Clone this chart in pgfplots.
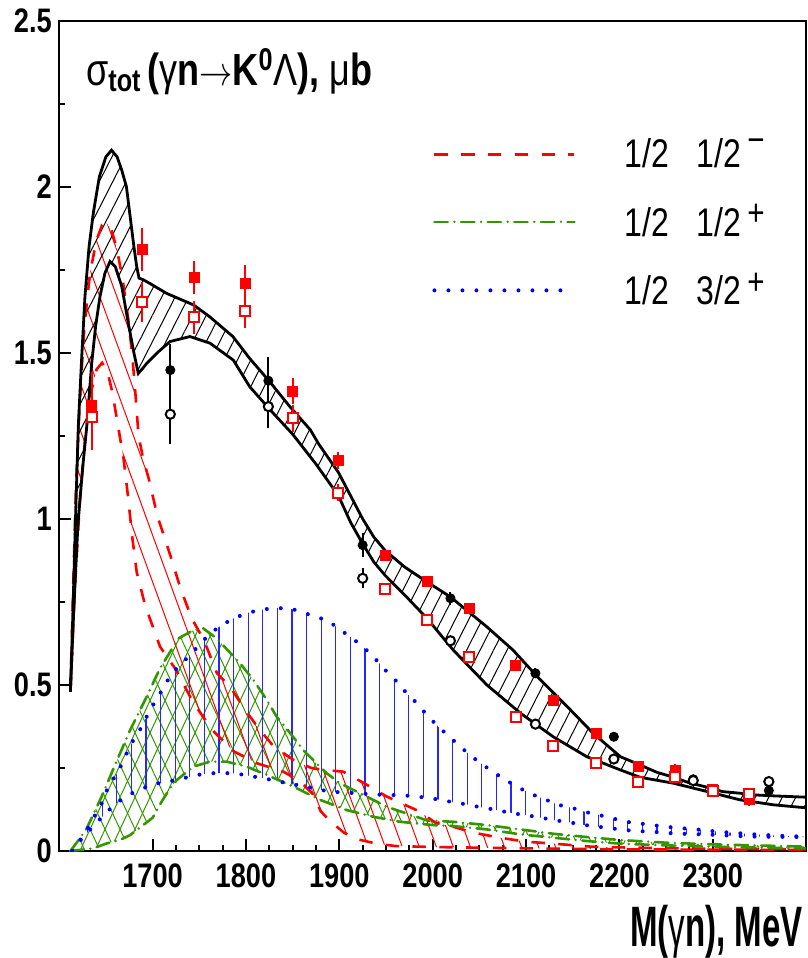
\documentclass[border=0pt]{standalone}
\usepackage{fontspec}
\setmainfont{Liberation Sans}
\usepackage{graphicx}
\usepackage{pgfplots}
\pgfplotsset{compat=1.18}
\usepgfplotslibrary{fillbetween}
\usetikzlibrary{patterns,patterns.meta}
\definecolor{rred}{RGB}{255,0,0}
\definecolor{rgreen}{RGB}{51,150,0}
\definecolor{rblue}{RGB}{0,0,255}
\newcommand{\nar}[2][0.8]{\scalebox{#1}[1]{#2}}
\newcommand{\supm}{\hspace{3pt}\raisebox{7.5pt}{\nar{\fontsize{18.5}{18.5}\selectfont −}}}
\newcommand{\supp}{\hspace{3pt}\raisebox{5.3pt}{\nar{\fontsize{18.5}{18.5}\selectfont +}}}
\begin{document}
\begin{tikzpicture}
\begin{axis}[
  at={(0,0)}, anchor=south west,
  scale only axis, width=373.5pt, height=415.15pt,
  xmin=1600, xmax=2400, ymin=0, ymax=2.5,
  axis line style={line width=1pt},
  tick pos=left, tick align=inside,
  xtick={1700,1800,...,2300}, minor x tick num=3,
  ytick={0,0.5,...,2.5}, minor y tick num=1,
  major tick length=6pt, minor tick length=3pt,
  tick style={line width=1pt, black},
  scaled x ticks=false,
  /pgf/number format/assume math mode=true,
  /pgf/number format/1000 sep={},
  ticklabel style={font=\bfseries\fontsize{17}{17}\selectfont},
  xticklabel={\nar[0.8]{\pgfmathprintnumber{\tick}}},
  yticklabel={\nar[0.8]{\pgfmathprintnumber{\tick}}},
  xticklabel style={inner sep=0pt, yshift=-6pt},
  yticklabel style={inner sep=0pt, xshift=-3.5pt},
  xlabel={\nar[0.58]{\bfseries\fontsize{28.5}{28.5}\selectfont M(\mdseries γ\bfseries n), MeV}},
  x label style={at={(axis description cs:1,0)}, anchor=base east, yshift=-47.5pt, inner sep=0pt, xshift=-1.5pt},
  legend style={draw=none, fill=none, at={(axis cs:1999.3,1.89)}, anchor=west, inner sep=0pt,
    font=\fontsize{20}{20}\selectfont, row sep=16.8pt,
    nodes={inner sep=0pt},
    /tikz/every odd column/.append style={column sep=24pt}},
  legend cell align=left,
  legend image code/.code={\draw[#1] (0pt,0pt) -- (70pt,0pt);},
]
% ---------- bands ----------
\addplot[name path=BU, draw=none, forget plot] coordinates {(1612,0.48) (1614,0.65) (1616,0.85) (1618,1.05) (1620.5,1.28) (1624,1.48) (1627.6,1.67) (1632,1.82) (1636.5,1.92) (1643,2.03) (1650,2.09) (1656,2.11) (1662,2.09) (1667,2.05) (1672,2.0) (1676,1.91) (1680,1.82) (1683,1.76) (1685.5,1.725) (1690,1.72) (1697,1.709) (1715,1.679) (1744,1.644) (1761,1.609) (1786,1.549) (1804,1.483) (1824,1.418) (1847,1.338) (1869,1.268) (1878,1.225) (1899,1.14) (1912,1.07) (1925,1.0) (1937,0.945) (1949,0.905) (1970,0.855) (1994,0.81) (2019,0.765) (2058,0.675) (2086,0.605) (2112,0.525) (2144,0.435) (2172,0.354) (2201,0.284) (2222,0.259) (2240,0.237) (2258,0.222) (2275,0.205) (2294,0.192) (2310,0.179) (2329,0.174) (2344,0.169) (2365,0.166) (2400,0.162)};
\addplot[name path=BL, draw=none, forget plot] coordinates {(1612,0.48) (1614,0.62) (1616,0.75) (1620,0.98) (1625,1.15) (1629.5,1.278) (1634.8,1.468) (1639,1.58) (1643.7,1.67) (1649,1.74) (1654.4,1.775) (1660,1.76) (1667,1.70) (1674,1.589) (1680,1.50) (1684.7,1.438) (1690,1.455) (1693.7,1.468) (1705,1.50) (1718.7,1.534) (1740,1.549) (1761.5,1.529) (1786.5,1.478) (1804,1.398) (1826,1.328) (1850,1.255) (1875,1.165) (1899,1.07) (1912,0.99) (1925,0.925) (1937,0.87) (1949,0.83) (1972,0.765) (1994,0.70) (2022,0.605) (2058,0.50) (2094,0.415) (2129,0.344) (2165,0.284) (2201,0.244) (2222,0.222) (2258,0.204) (2294,0.179) (2329,0.154) (2365,0.139) (2400,0.130)};
\addplot[name path=RU, draw=none, forget plot] coordinates {(1612,0.48) (1615,0.8) (1618,1.1) (1622,1.35) (1627,1.58) (1633,1.74) (1640,1.84) (1646,1.885) (1651,1.89) (1656,1.87) (1662,1.81) (1668,1.72) (1674,1.60) (1678,1.50) (1681,1.40) (1685,1.25) (1690,1.18) (1696,1.12) (1705,1.01) (1719,0.89) (1730,0.79) (1742,0.70) (1755,0.635) (1769,0.535) (1783,0.495) (1799,0.425) (1815,0.364) (1830,0.314) (1851,0.274) (1870,0.25) (1883,0.244) (1904,0.239) (1926,0.205) (1950,0.165) (1985,0.12) (2003,0.085) (2022,0.073) (2044,0.055) (2072,0.04) (2100,0.028) (2130,0.022) (2170,0.013) (2250,0.008) (2400,0.005)};
\addplot[name path=RL, draw=none, forget plot] coordinates {(1612,0.48) (1617,0.8) (1622,1.05) (1628,1.25) (1634,1.38) (1640,1.45) (1646,1.47) (1652,1.44) (1657,1.38) (1663,1.28) (1669,1.18) (1674,1.06) (1678,0.95) (1683,0.84) (1692,0.74) (1708,0.615) (1724,0.55) (1744,0.445) (1764,0.364) (1787,0.30) (1812,0.264) (1840,0.239) (1858,0.21) (1872,0.17) (1880,0.12) (1890,0.09) (1905,0.055) (1920,0.035) (1940,0.022) (1960,0.015) (2000,0.012) (2050,0.01) (2100,0.008) (2200,0.005) (2300,0.004) (2400,0.003)};
\addplot[name path=GU, draw=none, forget plot] coordinates {(1612,0.0) (1620,0.03) (1629.5,0.068) (1645.5,0.164) (1659.8,0.259) (1675.9,0.364) (1692,0.455) (1708,0.55) (1727.6,0.64) (1743.8,0.665) (1754.4,0.67) (1768.7,0.64) (1793.7,0.565) (1808,0.515) (1822.3,0.455) (1833,0.404) (1842,0.374) (1863,0.299) (1872,0.274) (1886.5,0.234) (1900.8,0.204) (1922,0.174) (1951,0.133) (1994,0.092) (2022,0.088) (2058,0.078) (2094,0.065) (2129,0.052) (2165,0.042) (2201,0.033) (2250,0.025) (2300,0.02) (2400,0.013)};
\addplot[name path=GL, draw=none, forget plot] coordinates {(1612,0.0) (1636.5,0.008) (1651,0.023) (1665,0.033) (1676,0.048) (1690,0.078) (1700,0.10) (1710,0.15) (1719,0.19) (1726,0.214) (1743.8,0.254) (1761.5,0.269) (1779.4,0.269) (1800.8,0.254) (1822.3,0.229) (1850.8,0.194) (1879.4,0.154) (1908,0.123) (1936.5,0.103) (1965,0.088) (2000,0.078) (2022,0.075) (2058,0.065) (2094,0.05) (2129,0.04) (2165,0.03) (2201,0.022) (2250,0.017) (2300,0.013) (2400,0.008)};
\addplot[name path=QU, draw=none, forget plot] coordinates {(1614,0.0) (1617,0.013) (1627.6,0.053) (1636.5,0.098) (1645.5,0.143) (1652.6,0.194) (1663.3,0.239) (1670.5,0.284) (1679.4,0.334) (1688.4,0.374) (1697.3,0.425) (1706.2,0.465) (1715.2,0.51) (1725.9,0.55) (1738.4,0.585) (1761.5,0.655) (1774,0.68) (1786.5,0.70) (1800.8,0.716) (1815,0.726) (1829.5,0.731) (1843.7,0.731) (1858,0.723) (1872.3,0.706) (1886.5,0.696) (1899,0.67) (1911.6,0.645) (1924.2,0.618) (1936.6,0.585) (1947.3,0.55) (1959.9,0.515) (1970.6,0.48) (1983,0.445) (1993.6,0.41) (2006,0.374) (2018,0.344) (2029.6,0.314) (2042,0.284) (2055,0.257) (2068,0.232) (2081,0.209) (2094,0.188) (2108,0.169) (2121.6,0.154) (2134.8,0.139) (2150,0.129) (2164.4,0.117) (2178.7,0.108) (2193,0.098) (2207,0.088) (2221.5,0.083) (2235.8,0.078) (2250,0.073) (2264.5,0.069) (2279,0.066) (2293,0.062) (2306,0.058) (2320,0.055) (2336,0.052) (2350,0.049) (2365,0.047) (2379,0.045) (2400,0.043)};
\addplot[name path=QL, draw=none, forget plot] coordinates {(1614,0.0) (1617,0.013) (1627.6,0.048) (1639.5,0.083) (1651,0.118) (1663.3,0.148) (1676.5,0.172) (1690,0.189) (1704.4,0.203) (1718.8,0.21) (1733,0.219) (1747.5,0.229) (1761.5,0.234) (1776,0.235) (1790,0.233) (1804.4,0.226) (1818.8,0.219) (1833,0.211) (1847.2,0.202) (1861.6,0.196) (1876,0.186) (1890,0.179) (1904.5,0.176) (1918.8,0.174) (1933,0.171) (1947.3,0.169) (1961.5,0.168) (1975.7,0.166) (1992,0.161) (2006,0.155) (2019.7,0.148) (2034.7,0.141) (2049,0.133) (2063.4,0.126) (2077.7,0.118) (2092,0.111) (2106.3,0.105) (2120.6,0.098) (2134.8,0.091) (2149,0.085) (2163.4,0.078) (2177.7,0.073) (2192,0.068) (2206,0.063) (2220.4,0.06) (2234.6,0.058) (2249,0.055) (2263,0.052) (2278,0.051) (2292,0.05) (2306,0.048) (2320,0.046) (2336,0.044) (2350,0.043) (2400,0.042)};
% hatch fills
\addplot[draw=none, pattern={Lines[angle=65,distance=6.8pt,line width=0.5pt]}, pattern color=rgreen, forget plot] fill between[of=GU and GL];
\addplot[draw=none, pattern={Lines[angle=115,distance=6.8pt,line width=0.5pt]}, pattern color=rgreen, forget plot] fill between[of=GU and GL];
\addplot[draw=none, pattern={Lines[angle=90,distance=7.3pt,line width=0.6pt]}, pattern color=rblue!85, forget plot] fill between[of=QU and QL];
\addplot[draw=none, pattern={Lines[angle=110,distance=8pt,line width=0.5pt]}, pattern color=rred, forget plot] fill between[of=RU and RL];
\addplot[draw=none, pattern={Lines[angle=63,distance=6pt,line width=0.5pt]}, pattern color=black, forget plot] fill between[of=BU and BL];
% boundary curves
\addplot[rred, line width=1.3pt, dash pattern=on 6.7pt off 6.7pt] coordinates {(1612,0.48) (1615,0.8) (1618,1.1) (1622,1.35) (1627,1.58) (1633,1.74) (1640,1.84) (1646,1.885) (1651,1.89) (1656,1.87) (1662,1.81) (1668,1.72) (1674,1.60) (1678,1.50) (1681,1.40) (1685,1.25) (1690,1.18) (1696,1.12) (1705,1.01) (1719,0.89) (1730,0.79) (1742,0.70) (1755,0.635) (1769,0.535) (1783,0.495) (1799,0.425) (1815,0.364) (1830,0.314) (1851,0.274) (1870,0.25) (1883,0.244) (1904,0.239) (1926,0.205) (1950,0.165) (1985,0.12) (2003,0.085) (2022,0.073) (2044,0.055) (2072,0.04) (2100,0.028) (2130,0.022) (2170,0.013) (2250,0.008) (2400,0.005)};
\addlegendentry{\nar[0.8]{1/2\hspace{17.5pt}1/2}\supm}
\addplot[rred, line width=1.3pt, dash pattern=on 6.7pt off 6.7pt, forget plot] coordinates {(1612,0.48) (1617,0.8) (1622,1.05) (1628,1.25) (1634,1.38) (1640,1.45) (1646,1.47) (1652,1.44) (1657,1.38) (1663,1.28) (1669,1.18) (1674,1.06) (1678,0.95) (1683,0.84) (1692,0.74) (1708,0.615) (1724,0.55) (1744,0.445) (1764,0.364) (1787,0.30) (1812,0.264) (1840,0.239) (1858,0.21) (1872,0.17) (1880,0.12) (1890,0.09) (1905,0.055) (1920,0.035) (1940,0.022) (1960,0.015) (2000,0.012) (2050,0.01) (2100,0.008) (2200,0.005) (2300,0.004) (2400,0.003)};
\addplot[rgreen, line width=1.3pt, line cap=round, dash pattern=on 6.7pt off 3.3pt on 0pt off 3.3pt] coordinates {(1612,0.0) (1620,0.03) (1629.5,0.068) (1645.5,0.164) (1659.8,0.259) (1675.9,0.364) (1692,0.455) (1708,0.55) (1727.6,0.64) (1743.8,0.665) (1754.4,0.67) (1768.7,0.64) (1793.7,0.565) (1808,0.515) (1822.3,0.455) (1833,0.404) (1842,0.374) (1863,0.299) (1872,0.274) (1886.5,0.234) (1900.8,0.204) (1922,0.174) (1951,0.133) (1994,0.092) (2022,0.088) (2058,0.078) (2094,0.065) (2129,0.052) (2165,0.042) (2201,0.033) (2250,0.025) (2300,0.02) (2400,0.013)};
\addlegendentry{\nar[0.8]{1/2\hspace{17.5pt}1/2}\supp}
\addplot[rgreen, line width=1.3pt, line cap=round, dash pattern=on 6.7pt off 3.3pt on 0pt off 3.3pt, forget plot] coordinates {(1612,0.0) (1636.5,0.008) (1651,0.023) (1665,0.033) (1676,0.048) (1690,0.078) (1700,0.10) (1710,0.15) (1719,0.19) (1726,0.214) (1743.8,0.254) (1761.5,0.269) (1779.4,0.269) (1800.8,0.254) (1822.3,0.229) (1850.8,0.194) (1879.4,0.154) (1908,0.123) (1936.5,0.103) (1965,0.088) (2000,0.078) (2022,0.075) (2058,0.065) (2094,0.05) (2129,0.04) (2165,0.03) (2201,0.022) (2250,0.017) (2300,0.013) (2400,0.008)};
\addplot[rblue, line width=2pt, line cap=round, dash pattern=on 0pt off 7pt] coordinates {(1614,0.0) (1617,0.013) (1627.6,0.053) (1636.5,0.098) (1645.5,0.143) (1652.6,0.194) (1663.3,0.239) (1670.5,0.284) (1679.4,0.334) (1688.4,0.374) (1697.3,0.425) (1706.2,0.465) (1715.2,0.51) (1725.9,0.55) (1738.4,0.585) (1761.5,0.655) (1774,0.68) (1786.5,0.70) (1800.8,0.716) (1815,0.726) (1829.5,0.731) (1843.7,0.731) (1858,0.723) (1872.3,0.706) (1886.5,0.696) (1899,0.67) (1911.6,0.645) (1924.2,0.618) (1936.6,0.585) (1947.3,0.55) (1959.9,0.515) (1970.6,0.48) (1983,0.445) (1993.6,0.41) (2006,0.374) (2018,0.344) (2029.6,0.314) (2042,0.284) (2055,0.257) (2068,0.232) (2081,0.209) (2094,0.188) (2108,0.169) (2121.6,0.154) (2134.8,0.139) (2150,0.129) (2164.4,0.117) (2178.7,0.108) (2193,0.098) (2207,0.088) (2221.5,0.083) (2235.8,0.078) (2250,0.073) (2264.5,0.069) (2279,0.066) (2293,0.062) (2306,0.058) (2320,0.055) (2336,0.052) (2350,0.049) (2365,0.047) (2379,0.045) (2400,0.043)};
\addlegendentry{\nar[0.8]{1/2\hspace{17.5pt}3/2}\supp}
\addplot[rblue, line width=2pt, line cap=round, dash pattern=on 0pt off 7pt, forget plot] coordinates {(1614,0.0) (1617,0.013) (1627.6,0.048) (1639.5,0.083) (1651,0.118) (1663.3,0.148) (1676.5,0.172) (1690,0.189) (1704.4,0.203) (1718.8,0.21) (1733,0.219) (1747.5,0.229) (1761.5,0.234) (1776,0.235) (1790,0.233) (1804.4,0.226) (1818.8,0.219) (1833,0.211) (1847.2,0.202) (1861.6,0.196) (1876,0.186) (1890,0.179) (1904.5,0.176) (1918.8,0.174) (1933,0.171) (1947.3,0.169) (1961.5,0.168) (1975.7,0.166) (1992,0.161) (2006,0.155) (2019.7,0.148) (2034.7,0.141) (2049,0.133) (2063.4,0.126) (2077.7,0.118) (2092,0.111) (2106.3,0.105) (2120.6,0.098) (2134.8,0.091) (2149,0.085) (2163.4,0.078) (2177.7,0.073) (2192,0.068) (2206,0.063) (2220.4,0.06) (2234.6,0.058) (2249,0.055) (2263,0.052) (2278,0.051) (2292,0.05) (2306,0.048) (2320,0.046) (2336,0.044) (2350,0.043) (2400,0.042)};
% black total band curves
\addplot[black, line width=1.4pt, forget plot] coordinates {(1612,0.48) (1614,0.65) (1616,0.85) (1618,1.05) (1620.5,1.28) (1624,1.48) (1627.6,1.67) (1632,1.82) (1636.5,1.92) (1643,2.03) (1650,2.09) (1656,2.11) (1662,2.09) (1667,2.05) (1672,2.0) (1676,1.91) (1680,1.82) (1683,1.76) (1685.5,1.725) (1690,1.72) (1697,1.709) (1715,1.679) (1744,1.644) (1761,1.609) (1786,1.549) (1804,1.483) (1824,1.418) (1847,1.338) (1869,1.268) (1878,1.225) (1899,1.14) (1912,1.07) (1925,1.0) (1937,0.945) (1949,0.905) (1970,0.855) (1994,0.81) (2019,0.765) (2058,0.675) (2086,0.605) (2112,0.525) (2144,0.435) (2172,0.354) (2201,0.284) (2222,0.259) (2240,0.237) (2258,0.222) (2275,0.205) (2294,0.192) (2310,0.179) (2329,0.174) (2344,0.169) (2365,0.166) (2400,0.162)};
\addplot[black, line width=1.4pt, forget plot] coordinates {(1612,0.48) (1614,0.62) (1616,0.75) (1620,0.98) (1625,1.15) (1629.5,1.278) (1634.8,1.468) (1639,1.58) (1643.7,1.67) (1649,1.74) (1654.4,1.775) (1660,1.76) (1667,1.70) (1674,1.589) (1680,1.50) (1684.7,1.438) (1690,1.455) (1693.7,1.468) (1705,1.50) (1718.7,1.534) (1740,1.549) (1761.5,1.529) (1786.5,1.478) (1804,1.398) (1826,1.328) (1850,1.255) (1875,1.165) (1899,1.07) (1912,0.99) (1925,0.925) (1937,0.87) (1949,0.83) (1972,0.765) (1994,0.70) (2022,0.605) (2058,0.50) (2094,0.415) (2129,0.344) (2165,0.284) (2201,0.244) (2222,0.222) (2258,0.204) (2294,0.179) (2329,0.154) (2365,0.139) (2400,0.130)};
% ---------- data points ----------
\addplot[only marks, mark=square*, mark size=2.5pt, color=rred, forget plot,
  error bars/.cd, y dir=both, y explicit, error mark=none, error bar style={line width=1pt, rred}]
  coordinates {(1635,1.343)+-(0,0.10) (1689,1.812)+-(0,0.065) (1744.5,1.727)+-(0,0.05) (1799,1.709)+-(0,0.055) (1850,1.385)+-(0,0.04) (1899,1.175)+-(0,0.025) (1949,0.889)+-(0,0.015) (1994,0.811)+-(0,0.015) (2039,0.729)+-(0,0.015) (2089,0.56)+-(0,0.015) (2129,0.452)+-(0,0.015) (2175,0.354)+-(0,0.015) (2220,0.254)+-(0,0.015) (2260,0.242)+-(0,0.02) (2300,0.184)+-(0,0.015) (2339,0.155)+-(0,0.02)};
\addplot[only marks, mark=square*, mark size=2.5pt, color=rred, mark options={fill=white, line width=1pt}, forget plot,
  error bars/.cd, y dir=both, y explicit, error mark=none, error bar style={line width=1pt, rred}]
  coordinates {(1635,1.308)+-(0,0.10) (1689,1.654)+-(0,0.06) (1744.5,1.607)+-(0,0.05) (1799,1.626)+-(0,0.05) (1850,1.303)+-(0,0.04) (1899,1.079)+-(0,0.025) (1949,0.788)+-(0,0.015) (1994,0.696)+-(0,0.015) (2039,0.585)+-(0,0.015) (2089,0.404)+-(0,0.012) (2129,0.316)+-(0,0.012) (2175,0.264)+-(0,0.012) (2220,0.209)+-(0,0.012) (2260,0.222)+-(0,0.015) (2300,0.180)+-(0,0.012) (2339,0.172)+-(0,0.015)};
\addplot[only marks, mark=*, mark size=2.3pt, color=black, forget plot,
  error bars/.cd, y dir=both, y explicit, error mark=none, error bar style={line width=1pt, black}]
  coordinates {(1719,1.448)+-(0,0.08) (1824,1.416)+-(0,0.07) (1925,0.921)+-(0,0.035) (2019,0.761)+-(0,0.02) (2110,0.535)+-(0,0.015) (2194,0.344)+-(0,0.012) (2279,0.216)+-(0,0.012) (2360,0.182)+-(0,0.012)};
\addplot[only marks, mark=*, mark size=2.3pt, color=black, mark options={fill=white, line width=1pt}, forget plot,
  error bars/.cd, y dir=both, y explicit, error mark=none, error bar style={line width=1pt, black}]
  coordinates {(1719,1.315)+-(0,0.09) (1824,1.338)+-(0,0.065) (1925,0.821)+-(0,0.03) (2019,0.633)+-(0,0.015) (2110,0.382)+-(0,0.012) (2194,0.277)+-(0,0.012) (2279,0.212)+-(0,0.012) (2360,0.209)+-(0,0.015)};
% title
\node[anchor=base west, inner sep=0pt] at (axis cs:1628.5,2.306) {\nar[0.8]{\fontsize{22.5}{22.5}\selectfont σ\textsubscript{\bfseries tot}\,\bfseries (\mdseries γ\bfseries n\mdseries$\rightarrow$\bfseries K\textsuperscript{0}\mdseries Λ\bfseries ), \mdseries μ\bfseries b}};
\end{axis}
\pgfresetboundingbox
\path[use as bounding box] (-29.6pt,-53.5pt) rectangle (374pt,425.5pt);
\end{tikzpicture}
\end{document}
